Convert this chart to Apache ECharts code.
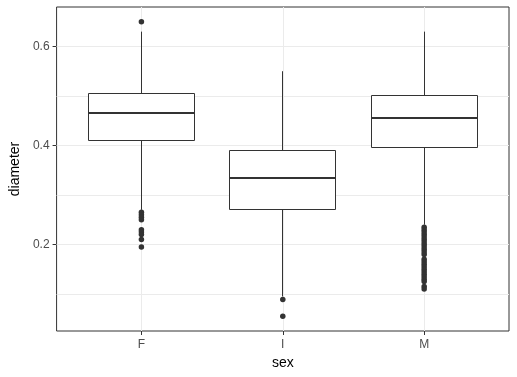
<!DOCTYPE html>
<html>
<head>
<meta charset="utf-8">
<script src="https://cdn.jsdelivr.net/npm/echarts@6/dist/echarts.min.js"></script>
<style>
  html, body { margin: 0; padding: 0; background: #fff; }
  #chart { width: 517px; height: 377px; }
</style>
</head>
<body>
<div id="chart"></div>
<script>
// groups on the x axis (positions 1,2,3)
var categories = ['F', 'I', 'M'];
// box statistics per group
var whiskerLow = [0.27, 0.095, 0.24];
var q1 = [0.41, 0.27, 0.395];
var median = [0.465, 0.335, 0.455];
var q3 = [0.505, 0.39, 0.5];
var whiskerHigh = [0.63, 0.55, 0.63];
// outlier points per group
var outliersF = [0.65, 0.265, 0.26, 0.255, 0.25, 0.23, 0.225, 0.22, 0.21, 0.195];
var outliersI = [0.089, 0.055];
var outliersM = [0.235, 0.23, 0.225, 0.22, 0.215, 0.21, 0.205, 0.2, 0.195, 0.19,
                 0.185, 0.18, 0.17, 0.165, 0.16, 0.155, 0.15, 0.145, 0.14, 0.135,
                 0.13, 0.125, 0.115, 0.11];
// axis ticks
var yTicks = [0.2, 0.4, 0.6];
var yGrid = [0.1, 0.2, 0.3, 0.4, 0.5, 0.6];
var xTicks = [1, 2, 3];

var boxData = categories.map(function (c, i) {
    return [i + 1, whiskerLow[i], q1[i], median[i], q3[i], whiskerHigh[i]];
});
var outlierData = [];
[outliersF, outliersI, outliersM].forEach(function (arr, i) {
    arr.forEach(function (v) { outlierData.push([i + 1, v]); });
});

var halfBox = 0.375; // ggplot default box width 0.75
function px(v) { return Math.round(v - 0.5) + 0.5; }

var chart = echarts.init(document.getElementById('chart'));
chart.setOption({
    animation: false,
    grid: {
        left: 49, right: 8, top: 7, bottom: 46,
        show: true, borderColor: '#333333', borderWidth: 1, backgroundColor: '#fff'
    },
    xAxis: {
        type: 'value',
        min: 0.4, max: 3.6,
        name: 'sex', nameLocation: 'middle', nameGap: 22,
        nameTextStyle: { color: '#000', fontSize: 14, fontFamily: 'Liberation Sans' },
        axisLine: { show: false },
        axisTick: { show: true, length: 4, customValues: xTicks, lineStyle: { color: '#333333' } },
        axisLabel: {
            customValues: xTicks, margin: 8, color: '#4D4D4D', fontSize: 12, fontFamily: 'Liberation Sans',
            formatter: function (v) { return categories[Math.round(v) - 1]; }
        },
        splitLine: { show: false }
    },
    yAxis: {
        type: 'value',
        min: 0.02525, max: 0.67975,
        name: 'diameter', nameLocation: 'middle', nameGap: 28,
        nameTextStyle: { color: '#000', fontSize: 14, fontFamily: 'Liberation Sans' },
        axisLine: { show: false },
        axisTick: { show: true, length: 4, customValues: yTicks, lineStyle: { color: '#333333' } },
        axisLabel: {
            customValues: yTicks, margin: 7, color: '#4D4D4D', fontSize: 12, fontFamily: 'Liberation Sans',
            formatter: function (v) { return v.toFixed(1); }
        },
        splitLine: { show: false }
    },
    series: [
        {
            type: 'scatter',
            data: [],
            z: 1,
            silent: true,
            markLine: {
                z: 1,
                silent: true,
                symbol: 'none',
                label: { show: false },
                lineStyle: { color: '#EBEBEB', width: 1, type: 'solid' },
                data: yGrid.map(function (v) { return { yAxis: v }; })
                    .concat(xTicks.map(function (v) { return { xAxis: v }; }))
            }
        },
        {
            // boxes without whisker caps, like ggplot
            type: 'custom',
            z: 3,
            data: boxData,
            renderItem: function (params, api) {
                var x = api.value(0);
                var lo = api.coord([x, api.value(1)]);
                var b1 = api.coord([x - halfBox, api.value(2)]);
                var b3 = api.coord([x + halfBox, api.value(4)]);
                var hi = api.coord([x, api.value(5)]);
                var m1 = api.coord([x - halfBox, api.value(3)]);
                var m2 = api.coord([x + halfBox, api.value(3)]);
                var cx = px(lo[0]);
                var left = px(b1[0]), right = px(b3[0]);
                var top = px(b3[1]), bottom = px(b1[1]);
                var stroke = '#333333';
                return {
                    type: 'group',
                    children: [
                        { type: 'line', shape: { x1: cx, y1: lo[1], x2: cx, y2: bottom },
                          style: { stroke: stroke, lineWidth: 1 } },
                        { type: 'line', shape: { x1: cx, y1: top, x2: cx, y2: hi[1] },
                          style: { stroke: stroke, lineWidth: 1 } },
                        { type: 'rect',
                          shape: { x: left, y: top, width: right - left, height: bottom - top },
                          style: { fill: '#fff', stroke: stroke, lineWidth: 1 } },
                        { type: 'line', shape: { x1: left, y1: Math.round(m1[1]), x2: right, y2: Math.round(m2[1]) },
                          style: { stroke: stroke, lineWidth: 2 } }
                    ]
                };
            }
        },
        {
            type: 'scatter',
            z: 4,
            data: outlierData,
            symbolSize: 5.5,
            itemStyle: { color: '#333333', opacity: 1 }
        }
    ]
});
</script>
</body>
</html>
